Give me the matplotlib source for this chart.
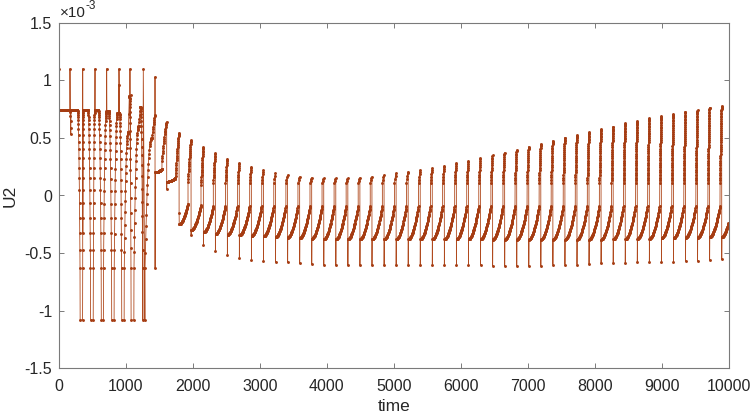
import numpy as np
import matplotlib
matplotlib.use("Agg")
import matplotlib.pyplot as plt

plt.rcParams["font.family"] = ["Liberation Sans", "DejaVu Sans"]
plt.rcParams["axes.unicode_minus"] = False

# ---------------------------------------------------------------------------
# values, U2 in units of 1e-3
# ---------------------------------------------------------------------------

# upward spikes in the early regime
SPIKE_TIMES = [0, 164, 354, 538, 712, 896, 1060, 1259, 1434]
SPIKE_TOPS = [1.1, 1.1, 1.1, 1.1, 1.1, 1.1, 1.1, 1.1, 1.03]
PLATEAU = 0.74
DIP_164 = 0.53
COLUMN_FOOT = -0.63
FLOOR = -1.08
EXTRA_PTS = [(893, 0.96), (1068, 0.87)]

# early "U" dips down to the floor
BOT_START = [314, 470, 630, 785, 935, 1075, 1250]
BOT_END = [354, 513, 665, 825, 975, 1120, 1285]
DESC_TOP = [0.74, 0.74, 0.74, 0.73, 0.72, 0.86, 0.77]
DESC_DUR = [40, 40, 45, 45, 35, 25, 35]
RISE_TOP = [0.74, 0.74, 0.73, 0.72, 0.55, 0.60, 0.50]
RISE_DUR = [12, 22, 45, 50, 60, 70, 105]

# later regime, one entry per cycle
LATE_SPIKE = [1434, 1608, 1793, 1972, 2156, 2335, 2514,
              2693, 2873, 3053, 3233, 3414, 3594, 3774, 3954, 4134, 4314,
              4494, 4674, 4855, 5035, 5215, 5395, 5575, 5755, 5935, 6115, 6295,
              6476, 6656, 6836, 7016, 7196, 7376, 7556, 7736, 7916, 8096,
              8277, 8457, 8637, 8817, 8997, 9177, 9357, 9537, 9717, 9898]
LATE_PEAK = [0.70, 0.64, 0.545, 0.48, 0.42, 0.366, 0.32,
             0.28, 0.25, 0.221, 0.193, 0.178, 0.163, 0.155, 0.149, 0.149, 0.149,
             0.155, 0.163, 0.178, 0.193, 0.207, 0.221, 0.236, 0.259, 0.279, 0.30, 0.322,
             0.348, 0.372, 0.395, 0.424, 0.447, 0.476, 0.502, 0.525, 0.548, 0.574,
             0.597, 0.627, 0.647, 0.67, 0.69, 0.707, 0.727, 0.742, 0.762, 0.777]
LATE_BOTTOM = [-0.63, 0.06, -0.15, -0.34, -0.43, -0.48, -0.52,
               -0.54, -0.56, -0.565, -0.575, -0.58, -0.59, -0.595, -0.60,
               -0.605, -0.605, -0.605, -0.605, -0.605, -0.605, -0.605,
               -0.605, -0.605, -0.605, -0.605, -0.605, -0.605,
               -0.609, -0.609, -0.609, -0.609, -0.609, -0.60, -0.60, -0.60,
               -0.595, -0.59, -0.589, -0.589, -0.58, -0.58, -0.575, -0.575,
               -0.569, -0.569, -0.56, -0.554]
LATE_TROUGH = [0.20, 0.12, -0.25, -0.30, -0.32, -0.335, -0.34,
               -0.345, -0.35, -0.355, -0.36, -0.365, -0.37, -0.375,
               -0.38, -0.38, -0.38, -0.38, -0.38, -0.38, -0.38,
               -0.38, -0.38, -0.38, -0.38, -0.38, -0.38, -0.38,
               -0.383, -0.383, -0.383, -0.383, -0.383, -0.383, -0.383, -0.383,
               -0.383, -0.383, -0.38, -0.38, -0.375, -0.375, -0.37, -0.37,
               -0.365, -0.365, -0.36, -0.36]
LATE_LOW_END = [0.23, 0.15, -0.07, -0.08] + [-0.09] * 44
LATE_UP_START = [0.50, 0.30, 0.15, 0.12, 0.09] + [0.11] * 43
LATE_UP_DUR = [44, 70, 55, 45, 35, 30, 28] + [25] * 41

X_TICKS = list(range(0, 10001, 1000))
Y_TICKS = [-1.5, -1, -0.5, 0, 0.5, 1, 1.5]
Y_TICK_LABELS = ["-1.5", "-1", "-0.5", "0", "0.5", "1", "1.5"]

MARK_C = "#A53C12"
LINE_C = "#B04A1E"


def curve(t0, t1, y0, y1, n, p=1.0, ease_out=False):
    s = np.linspace(0, 1, n)
    f = 1 - (1 - s) ** p if ease_out else s ** p
    return list(zip(t0 + (t1 - t0) * s, y0 + (y1 - y0) * f))


# ---------------------------------------------------------------------------
# assemble the trace
# ---------------------------------------------------------------------------
pts = []
pts += curve(2, 164, PLATEAU, PLATEAU, 40)
pts += curve(166, 176, PLATEAU, DIP_164, 6, 1.5)
pts += curve(180, BOT_START[0] - DESC_DUR[0], PLATEAU, PLATEAU, 25)

for j in range(len(BOT_START)):
    bs, be = BOT_START[j], BOT_END[j]
    pts += curve(bs - DESC_DUR[j], bs, DESC_TOP[j], COLUMN_FOOT, 22, 2.5)
    pts += [(bs + 2, FLOOR), (be - 2, FLOOR)]
    r1 = be + RISE_DUR[j]
    pts += curve(be, r1, COLUMN_FOOT, RISE_TOP[j], 22, 2.5, ease_out=True)
    if j + 1 < len(BOT_START):
        nxt = BOT_START[j + 1] - DESC_DUR[j + 1]
        pts += curve(r1, nxt, RISE_TOP[j], DESC_TOP[j + 1], max(2, int((nxt - r1) / 4)))

n_late = len(LATE_SPIKE)
for i in range(n_late):
    S = LATE_SPIKE[i]
    n_up = max(4, int(abs(LATE_PEAK[i] - LATE_UP_START[i]) * 60))
    pts += curve(S - LATE_UP_DUR[i], S, LATE_UP_START[i], LATE_PEAK[i], n_up, 1.3, ease_out=True)
    pts.append((S + 1, LATE_BOTTOM[i]))
    if i + 1 < n_late:
        end = LATE_SPIKE[i + 1] - LATE_UP_DUR[i + 1]
    else:
        end = S + 155
    lower = curve(S + 3, end, LATE_TROUGH[i], LATE_LOW_END[i], 45, 1.8)
    pts += [p for p in lower if p[0] <= 10000]

pts += list(zip(SPIKE_TIMES, SPIKE_TOPS))
pts += EXTRA_PTS
pts.sort(key=lambda p: p[0])
t = np.array([p[0] for p in pts])
u2 = np.array([p[1] for p in pts])

# ---------------------------------------------------------------------------
# plot
# ---------------------------------------------------------------------------
fig = plt.figure(figsize=(7.51, 4.19), dpi=100)
ax = fig.add_axes([59 / 751, 1 - 368.3 / 419, (728.5 - 59) / 751, (368.3 - 22.7) / 419])

ax.plot(t, u2, "-", color=LINE_C, lw=0.6, marker=".", ms=4.2,
        mfc=MARK_C, mec=MARK_C, mew=0)

ax.set_xlim(0, 10000)
ax.set_ylim(-1.5, 1.5)
ax.set_xticks(X_TICKS)
ax.set_yticks(Y_TICKS)
ax.set_yticklabels(Y_TICK_LABELS)

for side in ["top", "bottom", "left", "right"]:
    ax.spines[side].set_color("#7a7a7a")
    ax.spines[side].set_linewidth(0.8)
ax.tick_params(direction="in", length=3.8, width=0.7, color="#7a7a7a",
               labelsize=11.5, labelcolor="#262626", top=True, right=True)
ax.tick_params(axis="x", pad=8)
ax.tick_params(axis="y", pad=5)

ax.set_xlabel("time", fontsize=12.5, color="#262626", labelpad=3)
ax.set_ylabel("U2", fontsize=12.5, color="#262626", labelpad=5)

fig.text(60 / 751, 1 - 17 / 419, "\u00d710", fontsize=11, color="#262626",
         ha="left", va="baseline")
fig.text(85 / 751, 1 - 9 / 419, "-3", fontsize=8.5, color="#262626",
         ha="left", va="baseline")

fig.savefig("out.png", dpi=100)
